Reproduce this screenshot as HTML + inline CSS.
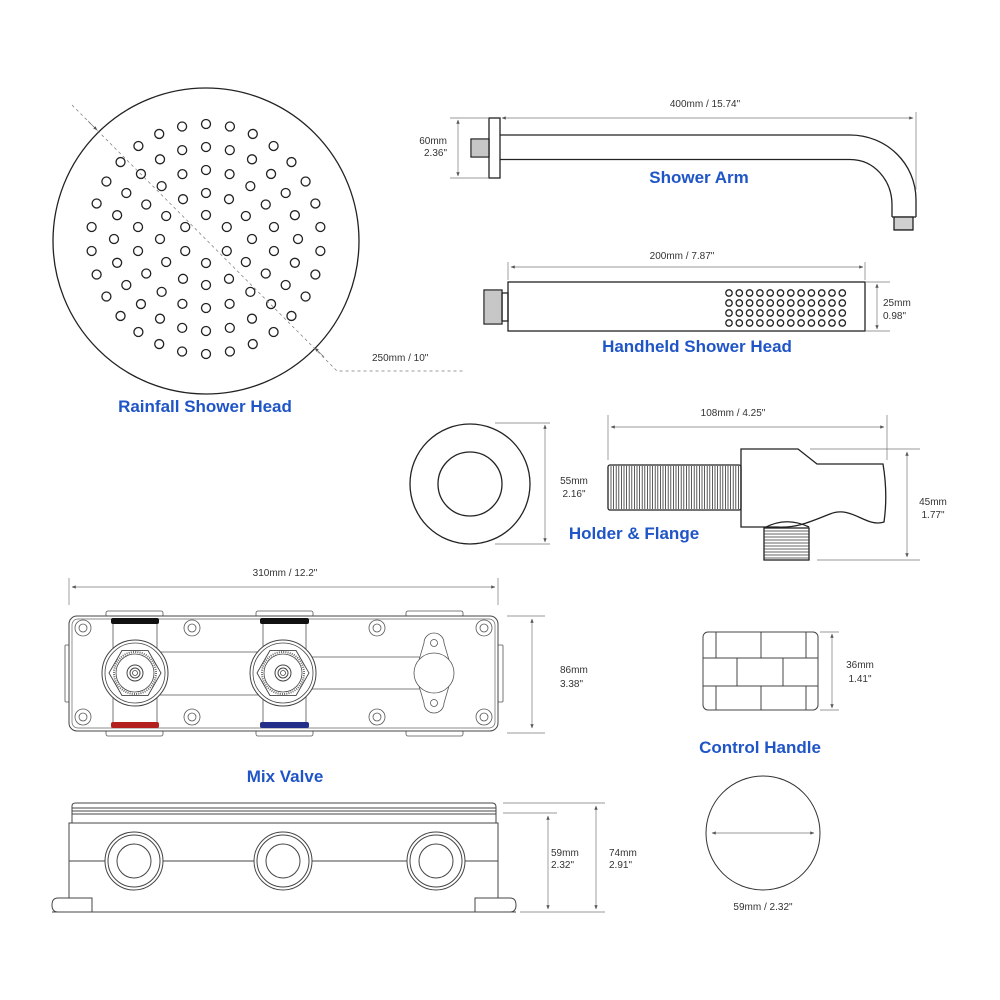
<!DOCTYPE html>
<html><head><meta charset="utf-8"><style>
html,body{margin:0;padding:0;background:#fff}
svg{display:block}
text{font-family:"Liberation Sans",sans-serif}
.d{font-size:10px;fill:#333}
.t{font-size:17px;font-weight:bold;fill:#1f55c6}
.s{fill:none;stroke:#222;stroke-width:1.3}
.g{fill:none;stroke:#555;stroke-width:0.8}
.e{stroke:#777;stroke-width:0.7;fill:none}
</style></head><body>
<svg id="sv" width="1000" height="1000" viewBox="0 0 1000 1000" xmlns="http://www.w3.org/2000/svg">
<defs>
<marker id="a" viewBox="0 0 10 10" refX="9" refY="5" markerWidth="6" markerHeight="6" orient="auto-start-reverse"><path d="M0,1 L10,5 L0,9 z" fill="#555"/></marker>
</defs>
<rect width="1000" height="1000" fill="#fff"/>

<!-- Rainfall shower head -->
<circle cx="206" cy="241" r="153" class="s" stroke-width="1.6"/>
<g id="holes" class="s" stroke-width="1.1"></g>
<path d="M72,105 L337,371 H463" class="e" stroke-dasharray="3,3"/>
<path d="M88,121 L97,130" class="e" marker-end="url(#a)"/>
<path d="M324,357 L315,348" class="e" marker-end="url(#a)"/>
<text x="372" y="361" class="d">250mm / 10"</text>
<text x="205" y="412" class="t" text-anchor="middle">Rainfall Shower Head</text>

<!-- Shower arm -->
<rect x="489" y="118" width="11" height="60" class="s"/>
<rect x="471" y="139" width="18" height="18" class="s" fill="#ddd"/>
<g id="armthr" stroke="#444" stroke-width="0.6"></g>
<path d="M500,135 H850 C886,135 916,163 916,200 V217" class="s"/>
<path d="M500,159.5 H850 C874,159.5 892,180 892,205 V217" class="s"/>
<path d="M892,217 H916" class="s"/>
<rect x="894" y="217" width="19" height="13" class="s" fill="#ddd"/>
<line x1="502" y1="118" x2="913" y2="118" class="e" marker-start="url(#a)" marker-end="url(#a)"/>
<line x1="916" y1="112" x2="916" y2="190" class="e"/>
<text x="705" y="107" class="d" text-anchor="middle">400mm / 15.74"</text>
<line x1="450" y1="118" x2="488" y2="118" class="e"/>
<line x1="450" y1="178" x2="488" y2="178" class="e"/>
<line x1="458" y1="120" x2="458" y2="176" class="e" marker-start="url(#a)" marker-end="url(#a)"/>
<text x="447" y="144" class="d" text-anchor="end">60mm</text>
<text x="447" y="156" class="d" text-anchor="end">2.36"</text>
<text x="699" y="183" class="t" text-anchor="middle">Shower Arm</text>

<!-- Handheld -->
<rect x="508" y="282" width="357" height="49" class="s"/>
<rect x="484" y="290" width="18" height="34" class="s"/>
<rect x="502" y="293" width="6" height="28" class="s"/>
<g id="hhthr" stroke="#444" stroke-width="0.6"></g>
<g id="hhholes" class="s" stroke-width="0.9"></g>
<line x1="511" y1="267" x2="863" y2="267" class="e" marker-start="url(#a)" marker-end="url(#a)"/>
<line x1="865" y1="262" x2="865" y2="280" class="e"/>
<line x1="508" y1="262" x2="508" y2="280" class="e"/>
<text x="682" y="259" class="d" text-anchor="middle">200mm / 7.87"</text>
<line x1="866" y1="282" x2="890" y2="282" class="e"/>
<line x1="866" y1="331" x2="890" y2="331" class="e"/>
<line x1="877" y1="284" x2="877" y2="329" class="e" marker-start="url(#a)" marker-end="url(#a)"/>
<text x="883" y="306" class="d">25mm</text>
<text x="883" y="319" class="d">0.98"</text>
<text x="697" y="352" class="t" text-anchor="middle">Handheld Shower Head</text>

<!-- Flange -->
<circle cx="470" cy="484" r="60" class="s" stroke-width="1.1"/>
<circle cx="470" cy="484" r="32" class="s" stroke-width="1.1"/>
<line x1="495" y1="423" x2="550" y2="423" class="e"/>
<line x1="495" y1="544" x2="550" y2="544" class="e"/>
<line x1="545" y1="425" x2="545" y2="542" class="e" marker-start="url(#a)" marker-end="url(#a)"/>
<text x="574" y="484" class="d" text-anchor="middle">55mm</text>
<text x="574" y="497" class="d" text-anchor="middle">2.16"</text>
<text x="634" y="539" class="t" text-anchor="middle">Holder &amp; Flange</text>

<!-- Holder -->
<rect x="608" y="465" width="133" height="45" rx="2" class="s" stroke-width="1"/>
<g id="hthr" stroke="#333" stroke-width="0.8"></g>
<path d="M741,449 H798 L817,464 H883 Q888,494 884,522 C866,528 852,505 830,514 C812,521 798,528 778,527 H741 Z" class="s" stroke-width="1.1"/>
<path d="M764,528 Q786,516 809,527" class="s" stroke-width="1.1"/>
<rect x="764" y="528" width="45" height="32" class="s" stroke-width="1"/>
<g id="nthr" stroke="#333" stroke-width="0.8"></g>
<line x1="608" y1="415" x2="608" y2="460" class="e"/>
<line x1="887" y1="415" x2="887" y2="460" class="e"/>
<line x1="611" y1="427" x2="884" y2="427" class="e" marker-start="url(#a)" marker-end="url(#a)"/>
<text x="733" y="416" class="d" text-anchor="middle">108mm / 4.25"</text>
<line x1="810" y1="449" x2="920" y2="449" class="e"/>
<line x1="817" y1="560" x2="920" y2="560" class="e"/>
<line x1="907" y1="452" x2="907" y2="557" class="e" marker-start="url(#a)" marker-end="url(#a)"/>
<text x="933" y="505" class="d" text-anchor="middle">45mm</text>
<text x="933" y="518" class="d" text-anchor="middle">1.77"</text>

<!-- Mix valve top -->
<g class="g" stroke="#444">
<rect x="65" y="645" width="4" height="57" rx="1"/>
<rect x="498" y="645" width="5" height="57" rx="1"/>
<rect x="106" y="611" width="57" height="6" rx="2"/>
<rect x="256" y="611" width="57" height="6" rx="2"/>
<rect x="406" y="611" width="57" height="6" rx="2"/>
<rect x="106" y="730" width="57" height="6" rx="2"/>
<rect x="256" y="730" width="57" height="6" rx="2"/>
<rect x="406" y="730" width="57" height="6" rx="2"/>
</g>
<rect x="69" y="616" width="429" height="115" rx="8" fill="#fff" stroke="#444" stroke-width="1"/>
<rect x="72" y="619" width="423" height="109" rx="6" fill="none" stroke="#666" stroke-width="0.7"/>
<rect x="111" y="618" width="48" height="6" rx="2" fill="#111"/>
<rect x="260" y="618" width="49" height="6" rx="2" fill="#111"/>
<rect x="111" y="722" width="48" height="6" rx="2" fill="#b4201d"/>
<rect x="260" y="722" width="49" height="6" rx="2" fill="#23308a"/>
<g class="g" stroke="#444">
<line x1="113" y1="624" x2="113" y2="722"/><line x1="157" y1="624" x2="157" y2="722"/>
<line x1="263" y1="624" x2="263" y2="722"/><line x1="306" y1="624" x2="306" y2="722"/>
<line x1="157" y1="652" x2="263" y2="652"/><line x1="157" y1="695" x2="263" y2="695"/>
<line x1="306" y1="657" x2="420" y2="657"/><line x1="306" y1="689" x2="420" y2="689"/>
</g>
<g id="valves"></g>
<g class="g" stroke="#444" fill="#fff">
<path d="M424,643 a10,10 0 0 1 20,0 L449,660 L449,686 L444,703 a10,10 0 0 1 -20,0 L419,686 L419,660 Z" fill="#fff"/>
<circle cx="434" cy="673" r="20" fill="#fff"/>
<circle cx="434" cy="643" r="3.5"/>
<circle cx="434" cy="703" r="3.5"/>
</g>
<g id="screws" class="g" stroke="#444"></g>
<line x1="69" y1="578" x2="69" y2="605" class="e"/>
<line x1="498" y1="578" x2="498" y2="605" class="e"/>
<line x1="72" y1="587" x2="495" y2="587" class="e" marker-start="url(#a)" marker-end="url(#a)"/>
<text x="285" y="576" class="d" text-anchor="middle">310mm / 12.2"</text>
<line x1="507" y1="616" x2="545" y2="616" class="e"/>
<line x1="507" y1="733" x2="545" y2="733" class="e"/>
<line x1="532" y1="619" x2="532" y2="728" class="e" marker-start="url(#a)" marker-end="url(#a)"/>
<text x="560" y="673" class="d">86mm</text>
<text x="560" y="687" class="d">3.38"</text>
<text x="285" y="782" class="t" text-anchor="middle">Mix Valve</text>

<!-- Mix valve side -->
<g stroke="#444" stroke-width="1" fill="none">
<path d="M72,823 V806 Q72,803 76,803 H492 Q496,803 496,807 V823"/>
<line x1="72" y1="808" x2="496" y2="808"/><line x1="72" y1="811" x2="496" y2="811"/><line x1="72" y1="814" x2="496" y2="814"/>
<rect x="69" y="823" width="429" height="89"/>
<line x1="69" y1="861" x2="498" y2="861"/>
<path d="M92,898 H58 Q52,898 52,905 Q52,912 58,912 H92 Z" fill="#fff"/>
<path d="M475,898 H510 Q516,898 516,905 Q516,912 510,912 H475 Z" fill="#fff"/>
<line x1="52" y1="912" x2="516" y2="912"/>
</g>
<g id="side" stroke="#444" stroke-width="1" fill="#fff"></g>
<line x1="503" y1="813" x2="557" y2="813" class="e"/>
<line x1="503" y1="803" x2="605" y2="803" class="e"/>
<line x1="520" y1="912" x2="605" y2="912" class="e"/>
<line x1="548" y1="816" x2="548" y2="909" class="e" marker-start="url(#a)" marker-end="url(#a)"/>
<line x1="596" y1="806" x2="596" y2="909" class="e" marker-start="url(#a)" marker-end="url(#a)"/>
<text x="551" y="856" class="d">59mm</text>
<text x="551" y="868" class="d">2.32"</text>
<text x="609" y="856" class="d">74mm</text>
<text x="609" y="868" class="d">2.91"</text>

<!-- Control handle -->
<g stroke="#444" stroke-width="1" fill="none">
<rect x="703" y="632" width="115" height="78" rx="5"/>
<line x1="703" y1="658" x2="818" y2="658"/><line x1="703" y1="686" x2="818" y2="686"/>
<line x1="716" y1="632" x2="716" y2="658"/><line x1="761" y1="632" x2="761" y2="658"/><line x1="806" y1="632" x2="806" y2="658"/>
<line x1="737" y1="658" x2="737" y2="686"/><line x1="783" y1="658" x2="783" y2="686"/>
<line x1="716" y1="686" x2="716" y2="710"/><line x1="761" y1="686" x2="761" y2="710"/><line x1="806" y1="686" x2="806" y2="710"/>
</g>
<line x1="820" y1="632" x2="839" y2="632" class="e"/>
<line x1="820" y1="710" x2="839" y2="710" class="e"/>
<line x1="832" y1="634" x2="832" y2="708" class="e" marker-start="url(#a)" marker-end="url(#a)"/>
<text x="860" y="668" class="d" text-anchor="middle">36mm</text>
<text x="860" y="682" class="d" text-anchor="middle">1.41"</text>
<text x="760" y="753" class="t" text-anchor="middle">Control Handle</text>
<circle cx="763" cy="833" r="57" fill="none" stroke="#333" stroke-width="1"/>
<line x1="712" y1="833" x2="814" y2="833" class="e" marker-start="url(#a)" marker-end="url(#a)"/>
<text x="763" y="910" class="d" text-anchor="middle">59mm / 2.32"</text>
</svg>
<script>
var NS="http://www.w3.org/2000/svg";
function el(p,t,a){var e=document.createElementNS(NS,t);for(var k in a)e.setAttribute(k,a[k]);document.getElementById(p).appendChild(e);return e;}
var cx=206,cy=239,rings=[[6,24,30],[12,46,0],[18,69,10],[24,92,0],[30,115,6]];
rings.forEach(function(r){for(var i=0;i<r[0];i++){var a=(r[2]+i*360/r[0])*Math.PI/180;el("holes","circle",{cx:cx+r[1]*Math.cos(a),cy:cy-r[1]*Math.sin(a),r:4.5});}});
for(var c=0;c<12;c++)for(var r=0;r<4;r++)el("hhholes","circle",{cx:729+c*10.3,cy:293+r*10,r:3.2});
for(var x=473;x<489;x+=2)el("armthr","line",{x1:x,y1:140,x2:x,y2:156});
for(var x=486;x<502;x+=2)el("hhthr","line",{x1:x,y1:291,x2:x,y2:323});
for(var y=219;y<230;y+=2)el("armthr","line",{x1:894,y1:y,x2:913,y2:y});
for(var x=611;x<741;x+=2.6)el("hthr","line",{x1:x,y1:466,x2:x,y2:509});
for(var y=531;y<560;y+=3)el("nthr","line",{x1:764,y1:y,x2:809,y2:y});
[135,283].forEach(function(x){var y=673;
el("valves","circle",{cx:x,cy:y,r:33,fill:"#fff",stroke:"#444","stroke-width":1});
el("valves","circle",{cx:x,cy:y,r:30,fill:"none",stroke:"#444","stroke-width":0.8});
var p="";for(var i=0;i<6;i++){var a=i*Math.PI/3;p+=(i?"L":"M")+(x+26*Math.cos(a))+","+(y+26*Math.sin(a));}
el("valves","path",{d:p+"Z",fill:"none",stroke:"#444","stroke-width":0.9});
el("valves","circle",{cx:x,cy:y,r:21,fill:"none",stroke:"#666","stroke-width":2,"stroke-dasharray":"1,1.2"});
el("valves","circle",{cx:x,cy:y,r:19,fill:"none",stroke:"#444","stroke-width":0.8});
el("valves","circle",{cx:x,cy:y,r:8,fill:"none",stroke:"#444","stroke-width":1});
el("valves","circle",{cx:x,cy:y,r:5,fill:"none",stroke:"#444","stroke-width":1});
el("valves","circle",{cx:x,cy:y,r:2.5,fill:"none",stroke:"#444","stroke-width":0.8});});
[83,192,377,484].forEach(function(x){[628,717].forEach(function(y){el("screws","circle",{cx:x,cy:y,r:8});el("screws","circle",{cx:x,cy:y,r:4});});});
[134,283,436].forEach(function(x){el("side","circle",{cx:x,cy:861,r:29});el("side","circle",{cx:x,cy:861,r:26,fill:"none"});el("side","circle",{cx:x,cy:861,r:17,fill:"none"});});
</script>
</body></html>
